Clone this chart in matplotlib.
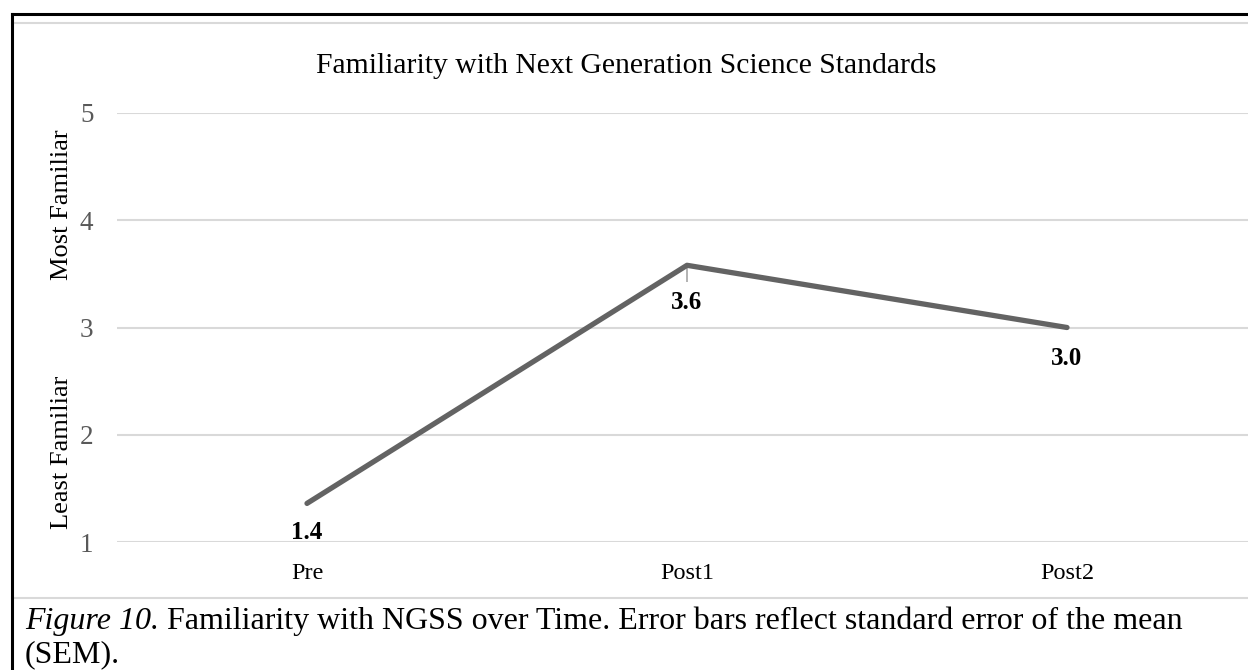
import matplotlib
matplotlib.use("Agg")
import matplotlib.pyplot as plt
from matplotlib.lines import Line2D

categories = ["Pre", "Post1", "Post2"]
means = [1.36, 3.58, 3.00]
sem_lower = [0.02, 0.16, 0.02]
sem_upper = [0.0, 0.0, 0.0]
data_labels = ["1.4", "3.6", "3.0"]
yticks = [1, 2, 3, 4, 5]

W, H = 1248, 670
fig = plt.figure(figsize=(W / 100, H / 100), dpi=100)
plt.rcParams['font.family'] = ['Liberation Serif', 'DejaVu Serif']

def fx(px):
    return px / W

def fy(py):
    return 1 - py / H

# axes: x from 117 px to 1257 px (beyond the figure), y from 542 (1) to 113 (5)
ax = fig.add_axes([fx(117), fy(542), (1257 - 117) / W, (542 - 113) / H])
ax.set_xlim(-0.5, 2.5)
ax.set_ylim(1, 5)
for s in ax.spines.values():
    s.set_visible(False)
ax.set_yticks(yticks)
ax.set_yticklabels([str(t) for t in yticks], color="#595959", fontsize=19.5)
ax.set_xticks(range(len(categories)))
ax.set_xticklabels(categories, fontsize=17.5, color="#000000")
ax.tick_params(axis="both", length=0)
ax.tick_params(axis="y", pad=17)
ax.tick_params(axis="x", pad=15)
ax.grid(axis="y", color="#d9d9d9", linewidth=1.5)
ax.set_axisbelow(True)
ax.patch.set_alpha(0)

x = list(range(len(categories)))
ax.errorbar(x, means, yerr=[sem_lower, sem_upper], fmt="none",
            ecolor="#a6a6a6", elinewidth=1.2, capsize=0, zorder=2)
ax.plot(x, means, color="#636363", linewidth=3.8, solid_capstyle="round",
        solid_joinstyle="round", zorder=3)
label_offsets = [21, 27, 22]
for xi, yi, lab, off in zip(x, means, data_labels, label_offsets):
    ax.annotate(lab, (xi, yi), xytext=(0, -off), textcoords="offset points",
                ha="center", va="center", fontsize=18, fontweight="bold", color="#000000")

# title
fig.text(fx(626), fy(66), "Familiarity with Next Generation Science Standards",
         ha="center", va="center", fontsize=21.3, color="#000000")

# y axis labels
fig.text(fx(62), fy(205), "Most Familiar", rotation=90, ha="center", va="center",
         fontsize=19, color="#000000")
fig.text(fx(62), fy(452), "Least Familiar", rotation=90, ha="center", va="center",
         fontsize=19, color="#000000")

# chart frame (light gray) and page border (black)
fig.add_artist(Line2D([fx(12), 1], [fy(22.5), fy(22.5)], color="#d9d9d9", linewidth=1.5))
fig.add_artist(Line2D([fx(12), 1], [fy(597.5), fy(597.5)], color="#d9d9d9", linewidth=1.5))
fig.add_artist(Line2D([fx(12), 1], [fy(14), fy(14)], color="#000000", linewidth=2.2))
fig.add_artist(Line2D([fx(12), fx(12)], [fy(14), 0], color="#000000", linewidth=2.2))

# caption
renderer = fig.canvas.get_renderer()
t1 = fig.text(fx(25), fy(621), "Figure 10.", ha="left", va="center",
              fontsize=23, style="italic", color="#000000")
bb = t1.get_window_extent(renderer)
x_end = bb.x1 / W
fig.text(x_end, fy(621), " Familiarity with NGSS over Time. Error bars reflect standard error of the mean",
         ha="left", va="center", fontsize=23, color="#000000")
fig.text(fx(25), fy(655), "(SEM).", ha="left", va="center", fontsize=23, color="#000000")

fig.savefig("out.png", dpi=100)
